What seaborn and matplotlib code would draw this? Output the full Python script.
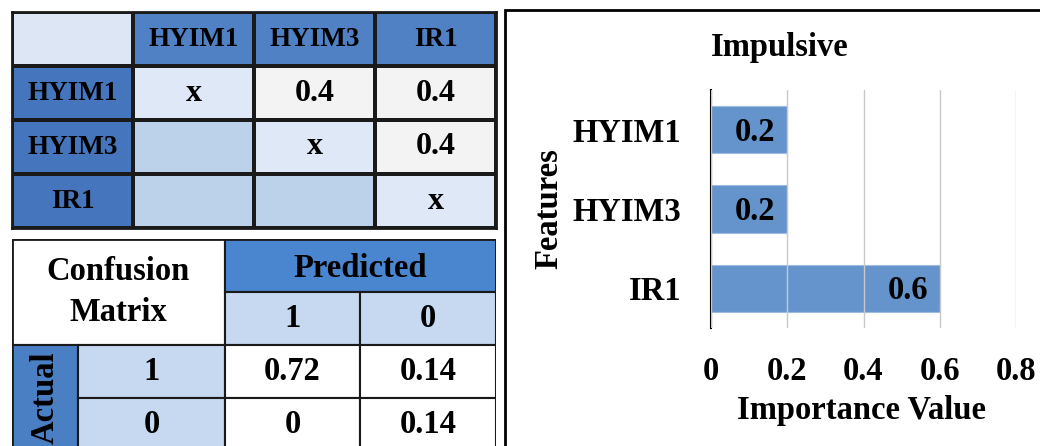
import numpy as np
import pandas as pd
import matplotlib
matplotlib.use('Agg')
import matplotlib.pyplot as plt
from matplotlib.colors import ListedColormap
from matplotlib.patches import Rectangle
import seaborn as sns

# feature importance (right panel)
features = ['HYIM1', 'HYIM3', 'IR1']
importance = [0.2, 0.2, 0.6]
x_ticks = [0, 0.2, 0.4, 0.6, 0.8]
x_tick_labels = ['0', '0.2', '0.4', '0.6', '0.8']

# pairwise table (top left)
pair_values = [['x', '0.4', '0.4'],
               ['', 'x', '0.4'],
               ['', '', 'x']]

# confusion matrix (bottom left)
cm_classes = ['1', '0']
cm_values = [['0.72', '0.14'],
             ['0', '0.14']]

sns.set_theme(style='white')
plt.rcParams['font.family'] = ['Liberation Serif', 'DejaVu Serif']
plt.rcParams['font.weight'] = 'bold'
plt.rcParams['text.color'] = 'black'
plt.rcParams['axes.labelcolor'] = 'black'
plt.rcParams['xtick.color'] = 'black'
plt.rcParams['ytick.color'] = 'black'

W, H = 1040, 446
fig = plt.figure(figsize=(W / 100, H / 100), dpi=100)


def px_axes(left, top, right, bottom):
    return fig.add_axes([left / W, 1 - bottom / H, (right - left) / W, (bottom - top) / H])


# ---- top table as a heatmap of cell colour codes ----
n = len(features)
codes = np.zeros((n + 1, n + 1), dtype=int)
codes[0, 1:] = 1
codes[1:, 0] = 2
for i in range(n):
    for j in range(n):
        codes[i + 1, j + 1] = 3 if i == j else (4 if j > i else 5)
cell_cmap = ListedColormap(['#dce6f5', '#4f81c4', '#4576bd', '#dfe8f6', '#f3f3f3', '#bcd2ea'])

ax_t = px_axes(12, 12, 496, 228)
sns.heatmap(pd.DataFrame(codes), ax=ax_t, cmap=cell_cmap, vmin=-0.5, vmax=5.5,
            cbar=False, linewidths=1.5, linecolor='#1a1a1a',
            xticklabels=False, yticklabels=False)
for j, f in enumerate(features):
    ax_t.text(j + 1.5, 0.5, f, ha='center', va='center', fontsize=19.5)
    ax_t.text(0.5, j + 1.5, f, ha='center', va='center', fontsize=19.5)
for i, row in enumerate(pair_values):
    for j, v in enumerate(row):
        if v:
            ax_t.text(j + 1.5, i + 1.5, v, ha='center', va='center', fontsize=23)
for s in ax_t.spines.values():
    s.set_visible(True)
    s.set_linewidth(2)
    s.set_color('#1a1a1a')

# ---- bottom table: confusion matrix ----
ax_c = px_axes(12, 239, 496, 451)
col_edges = [0, 66, 213, 348, 484]
row_edges = [0, 53, 106, 159, 212]
ax_c.set_xlim(0, 484)
ax_c.set_ylim(212, 0)
ax_c.axis('off')


def cell(c0, c1, r0, r1, color, text='', size=23.5, rot=0, dy=0):
    x0, x1 = col_edges[c0], col_edges[c1]
    y0, y1 = row_edges[r0], row_edges[r1]
    ax_c.add_patch(Rectangle((x0, y0), x1 - x0, y1 - y0, facecolor=color,
                             edgecolor='#1a1a1a', linewidth=1.5))
    if text:
        ax_c.text((x0 + x1) / 2, (y0 + y1) / 2 + dy, text, ha='center', va='center',
                  fontsize=size, rotation=rot, linespacing=1.45)


cell(0, 2, 0, 2, 'white', 'Confusion\nMatrix')
cell(2, 4, 0, 1, '#4a86d0', 'Predicted', dy=3)
for k, c in enumerate(cm_classes):
    cell(2 + k, 3 + k, 1, 2, '#c6d9f1', c)
cell(0, 1, 2, 4, '#4a7fc4', 'Actual', rot=90)
for i, c in enumerate(cm_classes):
    cell(1, 2, 2 + i, 3 + i, '#c6d9f1', c)
    for j, v in enumerate(cm_values[i]):
        cell(2 + j, 3 + j, 2 + i, 3 + i, 'white', v)
ax_c.add_patch(Rectangle((0, 0), 484, 212, facecolor='none', edgecolor='#1a1a1a', linewidth=2))

# ---- right panel frame ----
fig.add_artist(Rectangle((505 / W, 1 - 452 / H), 545 / W, 442 / H, transform=fig.transFigure,
                         facecolor='none', edgecolor='black', linewidth=2))

# ---- feature importance bars ----
ax = px_axes(711, 90, 1016, 328)
df = pd.DataFrame({'Features': features, 'Importance': importance})
sns.barplot(data=df, x='Importance', y='Features', orient='h', color='#6594cc',
            width=0.6, ax=ax, saturation=1, edgecolor='#9dbbe0', linewidth=0.8, zorder=2)
ax.set_xlim(0, 0.8)
ax.set_xticks(x_ticks)
ax.set_xticklabels(x_tick_labels)
ax.grid(axis='x', color='#c8c8c8', linewidth=1, zorder=3)
ax.set_axisbelow(False)
for s in ['top', 'right', 'bottom']:
    ax.spines[s].set_visible(False)
ax.spines['left'].set_color('black')
ax.spines['left'].set_linewidth(1.5)
ax.tick_params(axis='x', length=0, pad=20, labelsize=23.5)
ax.tick_params(axis='y', length=0, pad=21.5, labelsize=23.5)
for i, v in enumerate(importance):
    ax.text(v - 0.031, i + 0.03, f'{v}', ha='right', va='center', fontsize=23.5, zorder=4)
ax.set_xlabel('Importance Value', fontsize=23.5, fontweight='bold')
ax.set_ylabel('Features', fontsize=23.5, fontweight='bold')
ax.xaxis.set_label_coords(0.495, -0.28)
ax.yaxis.set_label_coords(-0.479, 0.5)
ax.text(0.226, 1.18, 'Impulsive', transform=ax.transAxes, ha='center', va='center', fontsize=23.5)

fig.savefig('out.png', dpi=100)
